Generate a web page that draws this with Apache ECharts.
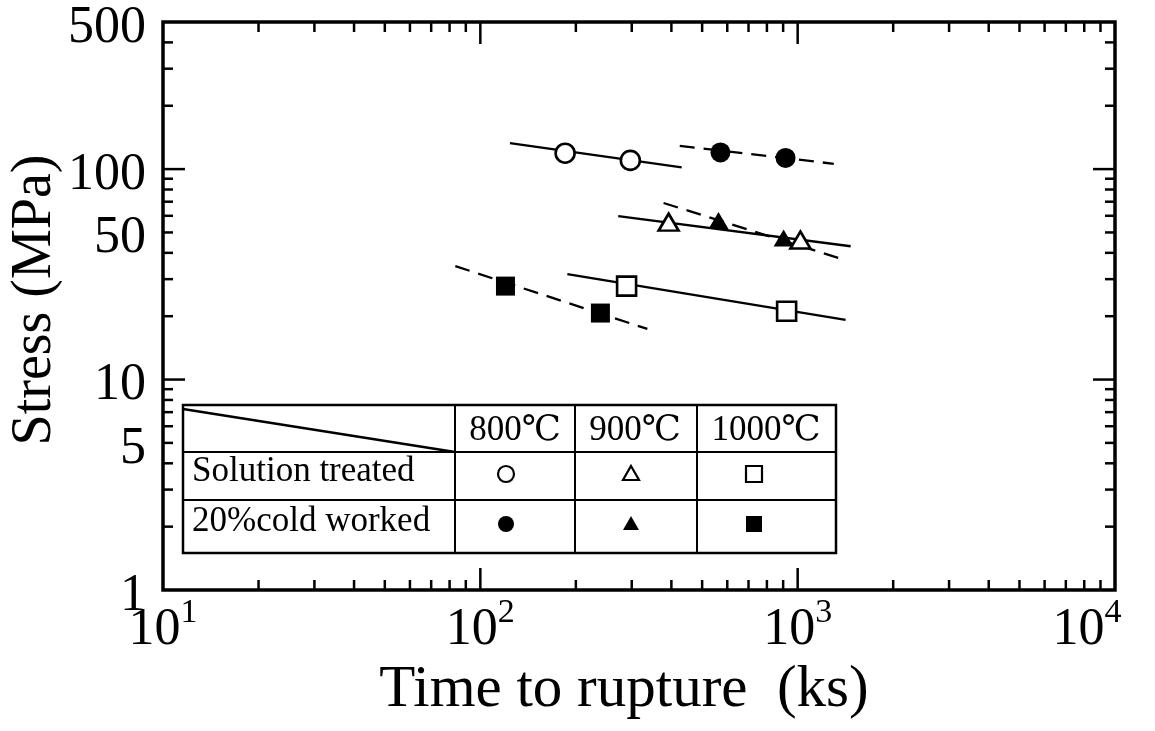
<!DOCTYPE html>
<html><head><meta charset="utf-8">
<script src="https://cdn.jsdelivr.net/npm/echarts@6/dist/echarts.min.js"></script>
<style>html,body{margin:0;padding:0;background:#fff}#c{width:1155px;height:731px}</style>
</head><body><div id="c"></div>
<script>
const FONT = "'Liberation Serif','DejaVu Serif',serif";
// ---- measured data points [time ks, stress MPa] ----
const solutionCircle   = [[185, 119], [297, 110]];
const coldCircle       = [[571, 120], [916, 113]];
const solutionTriangle = [[392, 56], [1020, 46]];
const coldTriangle     = [[563, 57], [903, 47]];
const solutionSquare   = [[289, 27.8], [923, 21.1]];
const coldSquare       = [[120, 27.8], [239, 20.7]];
// ---- trend lines (end points) ----
const solutionCircleLine   = [[124, 133], [431, 102]];
const coldCircleLine       = [[425, 129], [1300, 106]];
const solutionTriangleLine = [[272, 59.8], [1469, 43]];
const coldTriangleLine     = [[378, 69], [1346, 37.8]];
const solutionSquareLine   = [[188, 31.7], [1416, 19.2]];
const coldSquareLine       = [[83.4, 34.6], [336, 17.4]];
// ---- ticks ----
const xMajorTicks = [100, 1000];
const xMinorTicks = [20, 30, 40, 50, 60, 70, 80, 90, 200, 300, 400, 500, 600, 700, 800, 900, 2000, 3000, 4000, 5000, 6000, 7000, 8000, 9000];
const yMajorTicks = [10, 100];
const yMinorTicks = [2, 3, 4, 5, 6, 7, 8, 9, 20, 30, 40, 50, 60, 70, 80, 90, 200, 300, 400];
const yTickLabels = [1, 5, 10, 50, 100, 500];
// ---- legend table ----
const tableHeaders = ['800℃', '900℃', '1000℃'];
const tableRows = ['Solution treated', '20%cold worked'];

const chart = echarts.init(document.getElementById('c'));

function tickSeries(values, isX, len) {
  return {
    type: 'custom', silent: true, z: 5,
    data: values.map(v => isX ? [v, 1] : [10, v]),
    renderItem: (params, api) => {
      const cs = params.coordSys;
      const p = api.coord([api.value(0), api.value(1)]);
      const st = { stroke: '#000', lineWidth: 2.5 };
      if (isX) {
        const b = cs.y + cs.height, t = cs.y;
        return { type: 'group', children: [
          { type: 'line', shape: { x1: p[0], y1: b, x2: p[0], y2: b - len }, style: st },
          { type: 'line', shape: { x1: p[0], y1: t, x2: p[0], y2: t + len }, style: st }
        ]};
      } else {
        const l = cs.x, r = cs.x + cs.width;
        return { type: 'group', children: [
          { type: 'line', shape: { x1: l, y1: p[1], x2: l + len, y2: p[1] }, style: st },
          { type: 'line', shape: { x1: r, y1: p[1], x2: r - len, y2: p[1] }, style: st }
        ]};
      }
    }
  };
}

function lineSeries(data, dashed) {
  return {
    type: 'line', data: data, symbol: 'none', silent: true, z: 2,
    lineStyle: { color: '#000', width: 2.3, opacity: 1, type: dashed ? [15, 9] : 'solid' }
  };
}
function pointSeries(data, symbol, size, filled) {
  return {
    type: 'scatter', data: data, symbol: symbol, symbolSize: size, z: 4,
    itemStyle: { opacity: 1, color: filled ? '#000' : '#fff', borderColor: '#000', borderWidth: filled ? 0 : 2.6 }
  };
}

const yLabelSeries = {
  type: 'custom', silent: true, z: 5,
  data: yTickLabels.map(v => [10, v]),
  renderItem: (params, api) => {
    const p = api.coord([api.value(0), api.value(1)]);
    return { type: 'text', x: p[0] - 17, y: p[1] + 6, style: {
      text: String(api.value(1)), fontSize: 52, fontFamily: FONT, fill: '#000',
      align: 'right', textAlign: 'right', verticalAlign: 'middle', textVerticalAlign: 'middle' } };
  }
};

// legend table graphic
const T = { l: 183, r: 836, t: 405, b: 553, cols: [455, 575, 697], rows: [452, 500] };
const colCenters = [515, 635, 766];
const rowCenters = [476, 526];
const g = [];
const ls = { stroke: '#000', lineWidth: 2 };
g.push({ type: 'rect', shape: { x: T.l, y: T.t, width: T.r - T.l, height: T.b - T.t }, style: { fill: '#fff', stroke: '#000', lineWidth: 2.5 }, z: 10 });
T.cols.forEach(x => g.push({ type: 'line', shape: { x1: x, y1: T.t, x2: x, y2: T.b }, style: ls, z: 11 }));
T.rows.forEach(y => g.push({ type: 'line', shape: { x1: T.l, y1: y, x2: T.r, y2: y }, style: ls, z: 11 }));
g.push({ type: 'line', shape: { x1: T.l, y1: T.t + 4, x2: T.cols[0], y2: T.rows[0] }, style: { stroke: '#000', lineWidth: 2.5 }, z: 11 });
tableHeaders.forEach((h, i) => g.push({ type: 'text', x: colCenters[i], y: (T.t + T.rows[0]) / 2 + 2, z: 12,
  style: { text: h, fontSize: 35, fontFamily: FONT, fill: '#000', align: 'center', verticalAlign: 'middle', textAlign: 'center', textVerticalAlign: 'middle' } }));
tableRows.forEach((h, i) => g.push({ type: 'text', x: T.l + 9, y: rowCenters[i] - 4, z: 12,
  style: { text: h, fontSize: 35, fontFamily: FONT, fill: '#000', align: 'left', verticalAlign: 'middle', textAlign: 'left', textVerticalAlign: 'middle' } }));
// legend symbols
rowCenters.forEach((cy, ri) => {
  const filled = ri === 1;
  const st = filled ? { fill: '#000' } : { fill: '#fff', stroke: '#000', lineWidth: 2.2 };
  const cx0 = colCenters[0] - 9, cx1 = colCenters[1] - 4, cx2 = colCenters[2] - 12;
  const y0 = cy - 2;
  g.push({ type: 'circle', shape: { cx: cx0, cy: y0, r: 8 }, style: st, z: 12 });
  g.push({ type: 'polygon', shape: { points: [[cx1, y0 - 8], [cx1 + 8, y0 + 6], [cx1 - 8, y0 + 6]] }, style: st, z: 12 });
  g.push({ type: 'rect', shape: { x: cx2 - 8, y: y0 - 8, width: 16, height: 16 }, style: st, z: 12 });
});

chart.setOption({
  backgroundColor: '#fff',
  animation: false,
  grid: { left: 163, top: 22, width: 952, height: 568, show: true, borderColor: '#000', borderWidth: 3.5, backgroundColor: 'transparent', containLabel: false, outerBoundsMode: 'none' },
  xAxis: {
    type: 'log', logBase: 10, min: 10, max: 10000,
    axisLine: { show: false }, axisTick: { show: false }, splitLine: { show: false }, minorTick: { show: false },
    axisLabel: {
      show: true, margin: 6, showMinLabel: true, showMaxLabel: true, hideOverlap: false,
      formatter: v => { const e = Math.round(Math.log10(v)); return '{b|10}{s|' + e + '}' + (e === 4 ? '{e|}' : ''); },
      rich: {
        b: { fontSize: 52, fontFamily: FONT, color: '#000', lineHeight: 60, verticalAlign: 'bottom' },
        s: { fontSize: 34, fontFamily: FONT, color: '#000', lineHeight: 36, verticalAlign: 'top' },
        e: { width: 56 }
      }
    },
    name: 'Time to rupture  (ks)', nameLocation: 'middle', nameGap: 66,
    nameTextStyle: { fontSize: 59, fontFamily: FONT, color: '#000', padding: [0, 30, 0, 0] }
  },
  yAxis: {
    type: 'log', logBase: 10, min: 1, max: 500,
    axisLine: { show: false }, axisTick: { show: false }, splitLine: { show: false }, axisLabel: { show: false },
    name: 'Stress (MPa)', nameLocation: 'middle', nameGap: 100, nameRotate: 90,
    nameTextStyle: { fontSize: 56, fontFamily: FONT, color: '#000', padding: [0, 0, 0, 12] }
  },
  graphic: g,
  series: [
    tickSeries(xMajorTicks, true, 22),
    tickSeries(xMinorTicks, true, 10),
    tickSeries(yMajorTicks, false, 22),
    tickSeries(yMinorTicks, false, 10),
    yLabelSeries,
    lineSeries(solutionCircleLine, false),
    lineSeries(coldCircleLine, true),
    lineSeries(solutionTriangleLine, false),
    lineSeries(coldTriangleLine, true),
    lineSeries(solutionSquareLine, false),
    lineSeries(coldSquareLine, true),
    pointSeries(solutionCircle, 'circle', 19, false),
    pointSeries(coldCircle, 'circle', 20, true),
    pointSeries(solutionTriangle, 'triangle', [20, 17], false),
    pointSeries(coldTriangle, 'triangle', [20, 17], true),
    pointSeries(solutionSquare, 'rect', 19, false),
    pointSeries(coldSquare, 'rect', 19, true)
  ]
});
</script></body></html>
